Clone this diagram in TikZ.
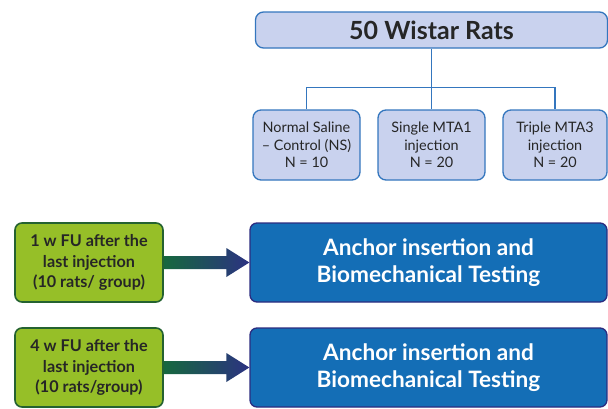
\documentclass[tikz,border=0pt]{standalone}
\usepackage{fontspec}
\setmainfont{Lato}
\usetikzlibrary{positioning,calc}

\definecolor{ratsfill}{RGB}{201,210,238}
\definecolor{ratsline}{RGB}{52,118,190}
\definecolor{fugreen}{RGB}{150,191,40}
\definecolor{fuline}{RGB}{36,98,48}
\definecolor{testblue}{RGB}{20,110,182}
\definecolor{testline}{RGB}{44,44,128}
\definecolor{shaftgreen}{RGB}{22,104,62}
\definecolor{shaftnavy}{RGB}{44,50,130}

\begin{document}
\begin{tikzpicture}[x=1pt,y=-1pt,
    groupbox/.style={draw=ratsline, fill=ratsfill, line width=1.3pt,
        rounded corners=8pt, align=center, inner sep=0pt},
    fubox/.style={draw=fuline, fill=fugreen, line width=1.6pt,
        rounded corners=7pt, align=center, inner sep=0pt,
        minimum width=148pt, minimum height=79pt,
        font=\fontsize{16.2}{20.5}\selectfont\bfseries, text=black!85},
    testbox/.style={draw=testline, fill=testblue, line width=1.3pt,
        rounded corners=7pt, align=center, inner sep=0pt,
        minimum width=357pt, minimum height=79pt,
        font=\fontsize{22.6}{27}\selectfont\bfseries, text=white},
    link/.style={draw=ratsline, line width=1.2pt}]
    \useasboundingbox (0,0) rectangle (608,408);

    % Top: all animals
    \node[groupbox, minimum width=352pt, minimum height=36pt,
        font=\fontsize{25}{26}\selectfont\bfseries, text=black!85]
        (rats) at (431.5,30) {50 Wistar Rats};

    % Three treatment groups
    \node[groupbox, minimum width=107pt, minimum height=70pt,
        font=\fontsize{14.4}{17.5}\selectfont, text=black!85]
        (ns) at (306.5,145) {Normal Saline\\– Control (NS)\\N = 10};
    \node[groupbox, minimum width=107pt, minimum height=70pt,
        font=\fontsize{14.4}{17.5}\selectfont, text=black!85]
        (mta1) at (431.5,145) {Single MTA1\\injection\\N = 20};
    \node[groupbox, minimum width=104pt, minimum height=70pt,
        font=\fontsize{14.4}{17.5}\selectfont, text=black!85]
        (mta3) at (555,145) {Triple MTA3\\injection\\N = 20};

    \coordinate (split) at ($(rats.south)+(0,39)$);
    \draw[link] (rats.south) -- (mta1.north);
    \draw[link] (split) -| (ns.north);
    \draw[link] (split) -| (mta3.north);

    % Follow-up rows
    \node[fubox] (fu1) at (89,262.5) {1 w FU after the\\last injection\\(10 rats/ group)};
    \node[testbox] (test1) at (428.5,262.5) {Anchor insertion and\\Biomechanical Testing};

    \node[fubox] (fu4) at (89,367.5) {4 w FU after the\\last injection\\(10 rats/group)};
    \node[testbox] (test4) at (428.5,367.5) {Anchor insertion and\\Biomechanical Testing};

    % Thick shaded arrows
    \foreach \from/\to in {fu1/test1, fu4/test4} {
        \shade[left color=shaftgreen, right color=shaftnavy]
            ($(\from.east)+(0,-6.5)$) -- ($(\to.west)+(-23,-6.5)$)
            -- ($(\to.west)+(-23,-14.5)$) -- (\to.west)
            -- ($(\to.west)+(-23,14.5)$) -- ($(\to.west)+(-23,6.5)$)
            -- ($(\from.east)+(0,6.5)$) -- cycle;
    }
\end{tikzpicture}
\end{document}
